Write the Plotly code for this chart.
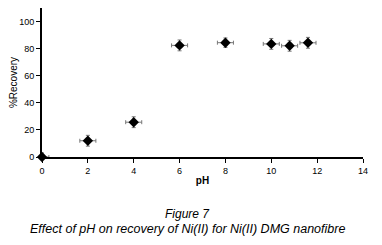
import plotly.graph_objects as go

ph = [0, 2, 4, 6, 8, 10, 10.8, 11.6]
recovery = [0, 12, 25.7, 82.4, 84.4, 83.5, 82.1, 84.3]
y_err = [3, 4, 4, 4, 3.5, 4, 4, 4]
x_err = [0.3, 0.35, 0.35, 0.35, 0.35, 0.35, 0.35, 0.35]
x_ticks = [0, 2, 4, 6, 8, 10, 12, 14]
y_ticks = [0, 20, 40, 60, 80, 100]

fig = go.Figure()
fig.add_trace(go.Scatter(
    x=ph, y=recovery, mode="markers",
    marker=dict(symbol="diamond", size=8, color="black"),
    error_y=dict(type="data", array=y_err, color="#777777", thickness=1, width=2),
    error_x=dict(type="data", array=x_err, color="#777777", thickness=1, width=2),
    cliponaxis=False,
))

W, H = 374, 237
L, R, T, B = 34, 19, 0, 88
fig.update_layout(
    width=W, height=H,
    margin=dict(l=L, r=R, t=T, b=B, pad=0),
    paper_bgcolor="white", plot_bgcolor="white",
    showlegend=False,
    font=dict(family="Liberation Sans, Arial, sans-serif", size=9, color="black"),
    xaxis=dict(range=[0, 14], tickvals=x_ticks, showgrid=False, zeroline=False,
               automargin=False,
               showline=True, linecolor="black", linewidth=2,
               ticks="outside", ticklen=4, tickwidth=1, tickcolor="black",
               tickfont=dict(size=9),
               title=dict(text="<b>pH</b>", font=dict(size=10), standoff=2)),
    yaxis=dict(range=[0, 110], tickvals=y_ticks, showgrid=False, zeroline=False,
               automargin=False,
               showline=True, linecolor="black", linewidth=2,
               ticks="outside", ticklen=4, tickwidth=1, tickcolor="black",
               tickfont=dict(size=9),
               title=dict(text="%Recovery", font=dict(size=10), standoff=4)),
)
plot_h = H - T - B
def py(pix):
    # pix measured in figure coordinates
    return (H - B - pix) / plot_h
fig.add_annotation(text="<i>Figure 7</i>", x=0.452, y=py(214 - 8), xref="paper", yref="paper",
                   showarrow=False, font=dict(size=12), xanchor="center", yanchor="middle")
fig.add_annotation(text="<i>Effect of pH on recovery of Ni(II) for Ni(II) DMG nanofibre</i>",
                   x=0.452, y=py(229 - 8), xref="paper", yref="paper",
                   showarrow=False, font=dict(size=12.5), xanchor="center", yanchor="middle")
fig.write_html("out.html")
